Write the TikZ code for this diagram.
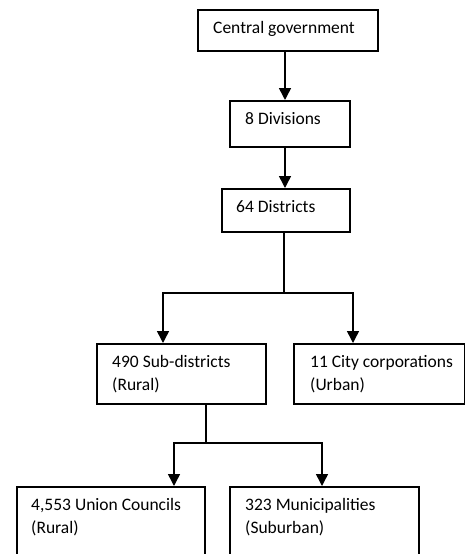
\documentclass[tikz,border=0pt]{standalone}
\usepackage{fontspec}
\setmainfont{Carlito}
\usetikzlibrary{arrows.meta}
\begin{document}
\begin{tikzpicture}[x=1pt,y=-1pt,
  box/.style={draw=black,line width=1.6pt,anchor=north west,inner sep=0pt,fill=white},
  txt/.style={anchor=base west,inner sep=0pt,font=\fontsize{17.5}{23}\selectfont,align=left},
  arr/.style={line width=1.5pt,-{Triangle[width=12pt,length=12pt]}},
  lin/.style={line width=1.5pt}]
\useasboundingbox (0,0) rectangle (465,554);
\clip (0,0) rectangle (465,554);
% boxes
\node[box,minimum width=180pt,minimum height=41pt] (cg) at (197,9) {};
\node[box,minimum width=120pt,minimum height=46pt] (dv) at (229,100) {};
\node[box,minimum width=128pt,minimum height=43pt] (ds) at (221,188) {};
\node[box,minimum width=169pt,minimum height=60pt] (sd) at (96,343) {};
\node[box,minimum width=171pt,minimum height=60pt] (cc) at (293,343) {};
\node[box,minimum width=188pt,minimum height=120pt] (uc) at (16,486) {};
\node[box,minimum width=189pt,minimum height=120pt] (mu) at (229,486) {};
% texts (base anchor of a two-line node is the baseline of its last line)
\node[txt] (tcg) at (213,33.3) {Central government};
\node[txt] (tdv) at (245,124.3) {8 Divisions};
\node[txt] (tds) at (236,212.3) {64 Districts};
\node[txt] (tsd) at (112,390) {490 Sub-districts\\(Rural)};
\node[txt] (tcc) at (310,390) {11 City corporations\\(Urban)};
\node[txt] (tuc) at (31,533.5) {4,553 Union Councils\\(Rural)};
\node[txt] (tmu) at (245,533.5) {323 Municipalities\\(Suburban)};
% connector coordinates
\coordinate (x1) at (285,0);
\coordinate (f1) at (284,293);
\coordinate (c4) at (163,0);
\coordinate (c5) at (353,0);
\coordinate (f2) at (206,443);
\coordinate (c6) at (174,0);
\coordinate (c7) at (322,0);
% connectors
\draw[arr] (cg.south -| x1) -- (dv.north -| x1);
\draw[arr] (dv.south -| x1) -- (ds.north -| x1);
\draw[lin] (ds.south -| f1) -- (f1);
\draw[arr] (f1) -| (sd.north -| c4);
\draw[arr] (f1) -| (cc.north -| c5);
\draw[lin] (sd.south -| f2) -- (f2);
\draw[arr] (f2) -| (uc.north -| c6);
\draw[arr] (f2) -| (mu.north -| c7);
\end{tikzpicture}
\end{document}
